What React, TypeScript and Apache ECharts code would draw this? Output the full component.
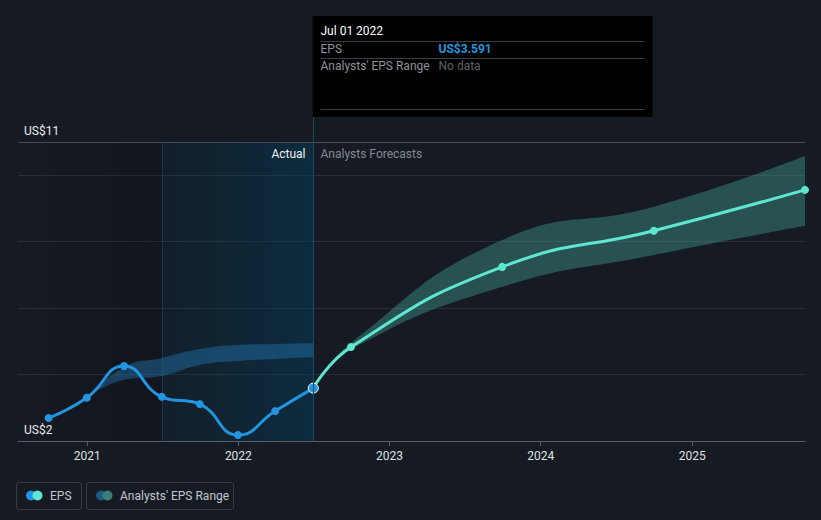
import React, { useEffect, useRef } from "react";
import * as echarts from "echarts";

const actualDates = ["2020-09-30", "2020-12-31", "2021-03-31", "2021-06-30", "2021-09-30", "2021-12-31", "2022-03-31", "2022-07-01"];
const actualEps = [2.69, 3.3, 4.26, 3.33, 3.11, 2.18, 2.9, 3.591];
const forecastDates = ["2022-07-01", "2022-09-30", "2023-09-30", "2024-09-30", "2025-09-30"];
const forecastEps = [3.591, 4.83, 7.24, 8.33, 9.56];
const forecastLow = [3.591, 4.75, 6.64, 7.6, 8.48];
const forecastHigh = [3.591, 4.95, 8.05, 9.05, 10.58];
const pastRangeDates = ["2020-12-31", "2021-03-31", "2021-06-30", "2021-09-30", "2021-12-31", "2022-03-31", "2022-07-01"];
const pastLow = [3.3, 3.84, 3.96, 4.29, 4.41, 4.47, 4.53];
const pastHigh = [3.3, 4.23, 4.5, 4.77, 4.89, 4.92, 4.95];
const yLabelTicks = [2, 11];
const axisStart = "2020-07-18";
const axisEnd = "2025-09-30";
const pastStart = "2021-07-01";
const presentDate = "2022-07-01";
const tooltipDate = "Jul 01 2022";
const tooltipEps = "US$3.591";

const BG = "#151a23";
const BLUE = "#2394df";
const TEAL = "#5ee6d0";
const FONT = "Roboto, 'Noto Sans', sans-serif";

export default function App() {
  const ref = useRef<HTMLDivElement>(null);
  useEffect(() => {
    document.body.style.margin = "0";
    document.body.style.background = BG;
    const chart = echarts.init(ref.current!, null, { renderer: "svg" });
    const pair = (d: string[], v: number[]) => d.map((x, i) => [x, v[i]]);
    const diff = (lo: number[], hi: number[]) => hi.map((h, i) => +(h - lo[i]).toFixed(3));
    chart.setOption({
      animation: false,
      backgroundColor: BG,
      textStyle: { fontFamily: FONT },
      grid: { left: 18, right: 16, top: 142, bottom: 79 },
      xAxis: {
        type: "time",
        min: axisStart,
        max: axisEnd,
        minInterval: 365 * 24 * 3600 * 1000,
        axisLine: { show: true, lineStyle: { color: "#5a5f67", width: 1 } },
        axisTick: { show: true, length: 5, lineStyle: { color: "#5a5f67" } },
        splitLine: { show: false },
        axisLabel: {
          color: "#dfe1e4",
          fontSize: 12,
          margin: 9,
          fontFamily: FONT,
          formatter: (v: number) => {
            const d = new Date(v);
            return d.getMonth() === 0 && d.getDate() === 1 ? String(d.getFullYear()) : "";
          },
        },
      },
      yAxis: {
        type: "value",
        min: 2,
        max: 11,
        interval: 2,
        axisLine: { show: false },
        axisTick: { show: false },
        splitLine: { show: true, lineStyle: { color: "#2a2f38", width: 1 } },
        axisLabel: {
          inside: true,
          margin: 6,
          color: "#eceef0",
          fontSize: 12,
          fontFamily: FONT,
          verticalAlign: "bottom",
          padding: [0, 0, 5, 0],
          formatter: (v: number) => (yLabelTicks.includes(v) ? "US$" + v : ""),
        },
      },
      series: [
        {
          name: "pastLow",
          type: "line",
          stack: "past",
          smooth: true,
          symbol: "none",
          lineStyle: { width: 0 },
          data: pair(pastRangeDates, pastLow),
          z: 1,
          markArea: {
            silent: true,
            data: [
              [
                {
                  xAxis: axisStart,
                  itemStyle: {
                    color: new echarts.graphic.LinearGradient(0, 0, 1, 0, [
                      { offset: 0, color: "rgba(0,0,0,0)" },
                      { offset: 1, color: "rgba(0,0,0,0.18)" },
                    ]),
                  },
                },
                { xAxis: pastStart },
              ],
              [
                {
                  xAxis: pastStart,
                  itemStyle: {
                    color: new echarts.graphic.LinearGradient(0, 0, 1, 0, [
                      { offset: 0, color: "rgba(0,65,95,0.12)" },
                      { offset: 1, color: "rgba(0,65,95,0.45)" },
                    ]),
                  },
                },
                { xAxis: presentDate },
              ],
            ],
          },
          markLine: {
            silent: true,
            symbol: "none",
            label: { show: false },
            lineStyle: { color: "rgba(40,100,120,0.4)", type: "solid", width: 1 },
            data: [{ xAxis: pastStart }],
          },
        },
        {
          name: "pastRange",
          type: "line",
          stack: "past",
          smooth: true,
          symbol: "none",
          lineStyle: { width: 0 },
          areaStyle: { color: "rgba(35,125,185,0.42)", opacity: 1 },
          data: pair(pastRangeDates, diff(pastLow, pastHigh)),
          z: 2,
        },
        {
          name: "fcLow",
          type: "line",
          stack: "fc",
          smooth: true,
          symbol: "none",
          lineStyle: { width: 0 },
          data: pair(forecastDates, forecastLow),
          z: 1,
          markLine: {
            silent: true,
            symbol: "none",
            label: { show: false },
            lineStyle: { color: "#474c55", type: "solid", width: 1 },
            data: [{ yAxis: 11 }],
          },
        },
        {
          name: "fcRange",
          type: "line",
          stack: "fc",
          smooth: true,
          symbol: "none",
          lineStyle: { width: 0 },
          areaStyle: { color: "rgba(64,150,140,0.45)", opacity: 1 },
          data: pair(forecastDates, diff(forecastLow, forecastHigh)),
          z: 2,
        },
        {
          name: "EPS forecast",
          type: "line",
          smooth: true,
          symbol: "circle",
          symbolSize: 8,
          showSymbol: true,
          itemStyle: { color: TEAL },
          lineStyle: { color: TEAL, width: 3 },
          data: pair(forecastDates, forecastEps),
          z: 4,
        },
        {
          name: "EPS",
          type: "line",
          smooth: true,
          symbol: "circle",
          symbolSize: 8,
          showSymbol: true,
          itemStyle: { color: BLUE },
          lineStyle: { color: BLUE, width: 3 },
          data: actualDates.map((d, i) =>
            i === actualDates.length - 1
              ? { value: [d, actualEps[i]], symbolSize: 10, itemStyle: { color: BLUE, borderColor: "#ffffff", borderWidth: 1 } }
              : [d, actualEps[i]]
          ),
          z: 5,
        },
      ],
    });

    const px = chart.convertToPixel({ xAxisIndex: 0 }, presentDate) as number;
    const lx = Math.round(px) + 0.5;
    const boxL = lx - 1;
    chart.setOption({
      graphic: [
        { type: "line", silent: true, shape: { x1: lx, y1: 16, x2: lx, y2: 441 }, style: { stroke: "#1b4b62", lineWidth: 1 }, z: 10 },
        { type: "rect", shape: { x: boxL, y: 16, width: 340, height: 101 }, style: { fill: "#000000" }, z: 11 },
        { type: "text", x: boxL + 8, y: 31, style: { text: tooltipDate, fill: "#ffffff", font: `12px ${FONT}`, verticalAlign: "middle" }, z: 12 },
        { type: "line", shape: { x1: boxL + 8, y1: 41.5, x2: boxL + 332, y2: 41.5 }, style: { stroke: "#3b3f45", lineWidth: 1 }, z: 12 },
        { type: "text", x: boxL + 8, y: 48.5, style: { text: "EPS", fill: "#8e939a", font: `12px ${FONT}`, verticalAlign: "middle" }, z: 12 },
        { type: "text", x: boxL + 126, y: 48.5, style: { text: tooltipEps, fill: BLUE, font: `bold 12px ${FONT}`, verticalAlign: "middle" }, z: 12 },
        { type: "line", shape: { x1: boxL + 8, y1: 58.5, x2: boxL + 332, y2: 58.5 }, style: { stroke: "#3b3f45", lineWidth: 1 }, z: 12 },
        { type: "text", x: boxL + 8, y: 66, style: { text: "Analysts' EPS Range", fill: "#8e939a", font: `12px ${FONT}`, verticalAlign: "middle" }, z: 12 },
        { type: "text", x: boxL + 126, y: 66, style: { text: "No data", fill: "#5c6066", font: `12px ${FONT}`, verticalAlign: "middle" }, z: 12 },
        { type: "line", shape: { x1: boxL + 8, y1: 109.5, x2: boxL + 332, y2: 109.5 }, style: { stroke: "#3b3f45", lineWidth: 1 }, z: 12 },
        { type: "text", x: lx - 8, y: 154, style: { text: "Actual", fill: "#f2f3f5", font: `12px ${FONT}`, align: "right", verticalAlign: "middle" }, z: 12 },
        { type: "text", x: lx + 7, y: 154, style: { text: "Analysts Forecasts", fill: "#858a91", font: `12px ${FONT}`, align: "left", verticalAlign: "middle" }, z: 12 },
        { type: "rect", shape: { x: 16.5, y: 482.5, width: 65, height: 27, r: 3 }, style: { fill: "none", stroke: "#393e47", lineWidth: 1 }, z: 12 },
        { type: "circle", shape: { cx: 31, cy: 495.5, r: 5 }, style: { fill: BLUE }, z: 12 },
        { type: "circle", shape: { cx: 37.5, cy: 495.5, r: 5 }, style: { fill: TEAL }, z: 13 },
        { type: "text", x: 50, y: 496, style: { text: "EPS", fill: "#c4c7cc", font: `12px ${FONT}`, verticalAlign: "middle" }, z: 12 },
        { type: "rect", shape: { x: 86.5, y: 482.5, width: 147, height: 27, r: 3 }, style: { fill: "none", stroke: "#393e47", lineWidth: 1 }, z: 12 },
        { type: "circle", shape: { cx: 101, cy: 495.5, r: 5 }, style: { fill: "#1f5a82" }, z: 12 },
        { type: "circle", shape: { cx: 107.5, cy: 495.5, r: 5 }, style: { fill: "#3d7f78" }, z: 13 },
        { type: "text", x: 120, y: 496, style: { text: "Analysts' EPS Range", fill: "#c4c7cc", font: `12px ${FONT}`, verticalAlign: "middle" }, z: 12 },
      ],
    });
    return () => chart.dispose();
  }, []);
  return (
    <div
      ref={ref}
      style={{ position: "fixed", left: 0, top: 0, width: 821, height: 520, background: BG }}
    />
  );
}
